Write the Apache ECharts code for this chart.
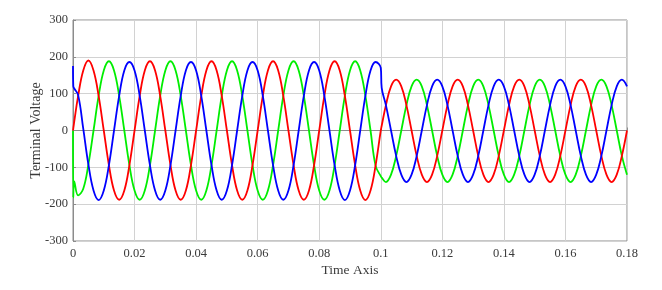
<!DOCTYPE html>
<html>
<head>
<meta charset="utf-8">
<script src="https://cdn.jsdelivr.net/npm/echarts@6/dist/echarts.min.js"></script>
<style>
html,body{margin:0;padding:0;background:#fff;}
#c{width:662px;height:290px;}
</style>
</head>
<body>
<div id="c"></div>
<script>
const xTicks = [0, 0.02, 0.04, 0.06, 0.08, 0.1, 0.12, 0.14, 0.16, 0.18];
const yTicks = [-300, -200, -100, 0, 100, 200, 300];

const time = [
  0, 0.0001, 0.0004, 0.00167, 0.00333, 0.005, 0.00667, 0.00833, 0.01, 0.01167, 0.01333, 0.015, 0.01667, 0.01833,
  0.02, 0.02167, 0.02333, 0.025, 0.02667, 0.02833, 0.03, 0.03167, 0.03333, 0.035, 0.03667, 0.03833,
  0.04, 0.04167, 0.04333, 0.045, 0.04667, 0.04833, 0.05, 0.05167, 0.05333, 0.055, 0.05667, 0.05833,
  0.06, 0.06167, 0.06333, 0.065, 0.06667, 0.06833, 0.07, 0.07167, 0.07333, 0.075, 0.07667, 0.07833,
  0.08, 0.08167, 0.08333, 0.085, 0.08667, 0.08833, 0.09, 0.09167, 0.09333, 0.095, 0.09667, 0.09833,
  0.1, 0.1003, 0.10167, 0.10333, 0.105, 0.10667, 0.10833, 0.11, 0.11167, 0.11333, 0.115, 0.11667, 0.11833,
  0.12, 0.12167, 0.12333, 0.125, 0.12667, 0.12833, 0.13, 0.13167, 0.13333, 0.135, 0.13667, 0.13833,
  0.14, 0.14167, 0.14333, 0.145, 0.14667, 0.14833, 0.15, 0.15167, 0.15333, 0.155, 0.15667, 0.15833,
  0.16, 0.16167, 0.16333, 0.165, 0.16667, 0.16833, 0.17, 0.17167, 0.17333, 0.175, 0.17667, 0.17833,
  0.18
];

const redPhase = [
  0, 6, 24, 94, 163, 190, 163, 94, 0, -94, -163, -188, -163, -94,
  0, 94, 163, 188, 163, 94, 0, -94, -163, -188, -163, -94,
  0, 94, 163, 188, 163, 94, 0, -94, -163, -188, -163, -94,
  0, 94, 163, 188, 163, 94, 0, -94, -163, -188, -163, -94,
  0, 94, 163, 188, 163, 94, 0, -94, -163, -189, -163, -94,
  0, 13, 69, 120, 138, 120, 69, 0, -69, -120, -140, -120, -69,
  0, 69, 120, 138, 120, 69, 0, -69, -120, -140, -120, -69,
  0, 69, 120, 138, 120, 69, 0, -69, -120, -140, -120, -69,
  0, 69, 120, 138, 120, 69, 0, -69, -120, -140, -120, -69,
  0
];

const greenPhase = [
  0, -182, -138, -176, -158, -92, 0, 94, 163, 188, 163, 94, 0, -94,
  -163, -188, -163, -94, 0, 94, 163, 188, 163, 94, 0, -94,
  -163, -188, -163, -94, 0, 94, 163, 188, 163, 94, 0, -94,
  -163, -188, -163, -94, 0, 94, 163, 188, 163, 94, 0, -94,
  -163, -188, -163, -94, 0, 94, 163, 188, 163, 94, 0, -96,
  -124, -128, -140, -120, -69, 0, 69, 120, 138, 120, 69, 0, -69,
  -120, -140, -120, -69, 0, 69, 120, 138, 120, 69, 0, -69,
  -120, -140, -120, -69, 0, 69, 120, 138, 120, 69, 0, -69,
  -120, -140, -120, -69, 0, 69, 120, 138, 120, 69, 0, -69,
  -120
];

const bluePhase = [
  175, 120, 114, 96, 5, -92, -163, -189, -163, -94, 0, 94, 163, 186,
  163, 94, 0, -94, -163, -188, -163, -94, 0, 94, 163, 186,
  163, 94, 0, -94, -163, -188, -163, -94, 0, 94, 163, 186,
  163, 94, 0, -94, -163, -188, -163, -94, 0, 94, 163, 186,
  163, 94, 0, -94, -163, -189, -163, -94, 0, 94, 163, 186,
  170, 116, 69, 0, -69, -120, -140, -120, -69, 0, 69, 120, 138,
  120, 69, 0, -69, -120, -140, -120, -69, 0, 69, 120, 138,
  120, 69, 0, -69, -120, -140, -120, -69, 0, 69, 120, 138,
  120, 69, 0, -69, -120, -140, -120, -69, 0, 69, 120, 138,
  120
];

function pairs(vals) { return time.map((t, i) => [t, vals[i]]); }

const font = '"Liberation Serif", "Times New Roman", serif';
const chart = echarts.init(document.getElementById('c'), null, {renderer: 'canvas'});

chart.setOption({
  animation: false,
  backgroundColor: '#ffffff',
  grid: {left: 73, right: 35, top: 20, bottom: 49, show: true, borderColor: '#8c8c8c', borderWidth: 1},
  xAxis: {
    type: 'value', min: xTicks[0], max: xTicks[xTicks.length - 1], interval: 0.02,
    name: 'Time Axis', nameLocation: 'middle', nameGap: 22, nameMoveOverlap: false,
    nameTextStyle: {fontFamily: font, fontSize: 13.5, color: '#3a3a3a'},
    axisLine: {show: true, lineStyle: {color: '#8c8c8c', width: 1}},
    axisTick: {show: true, inside: true, length: 3, lineStyle: {color: '#8c8c8c'}},
    axisLabel: {fontFamily: font, fontSize: 12.5, color: '#3a3a3a', margin: 6,
      formatter: v => String(Math.round(v * 100) / 100)},
    splitLine: {show: true, lineStyle: {color: '#d2d2d2', width: 1}}
  },
  yAxis: {
    type: 'value', min: yTicks[0], max: yTicks[yTicks.length - 1], interval: 100,
    name: 'Terminal Voltage', nameLocation: 'middle', nameGap: 30, nameRotate: 90, nameMoveOverlap: false,
    nameTextStyle: {fontFamily: font, fontSize: 14, color: '#3a3a3a'},
    axisLine: {show: true, lineStyle: {color: '#8c8c8c', width: 1}},
    axisTick: {show: true, inside: true, length: 3, lineStyle: {color: '#8c8c8c'}},
    axisLabel: {fontFamily: font, fontSize: 12.5, color: '#3a3a3a', margin: 5},
    splitLine: {show: true, lineStyle: {color: '#d2d2d2', width: 1}}
  },
  series: [
    {type: 'line', data: pairs(redPhase), smooth: 0.4, showSymbol: false, lineStyle: {color: '#ff0000', width: 1.8}, z: 3},
    {type: 'line', data: pairs(greenPhase), smooth: 0.4, showSymbol: false, lineStyle: {color: '#00ee00', width: 1.8}, z: 2},
    {type: 'line', data: pairs(bluePhase), smooth: 0.4, showSymbol: false, lineStyle: {color: '#0000ff', width: 1.8}, z: 4}
  ]
});
</script>
</body>
</html>
